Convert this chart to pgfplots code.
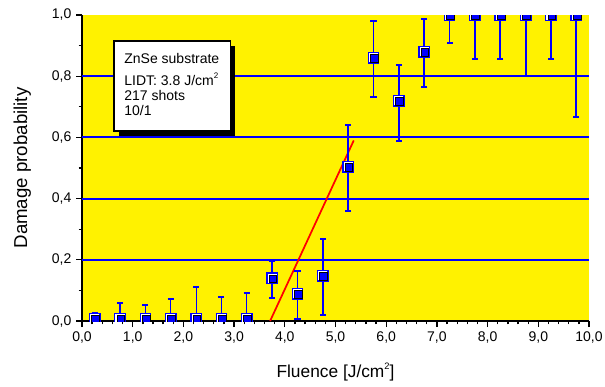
\documentclass[border=0pt]{standalone}
\usepackage{fontspec}
\setmainfont{Liberation Sans}
\usepackage{pgfplots}
\usepackage{pgfplotstable}
\pgfplotsset{compat=1.18}
\pgfplotstableread{
x y ep em
0.25 0.008 0.019 0
0.75 0.008 0.052 0
1.25 0.008 0.044 0
1.75 0.008 0.065 0
2.25 0.008 0.103 0
2.75 0.008 0.070 0
3.25 0.008 0.083 0
}\low
\pgfplotstableread{
x y ep em
3.75 0.140 0.057 0.065
4.25 0.089 0.075 0.083
4.75 0.148 0.120 0.128
5.25 0.504 0.136 0.144
5.75 0.860 0.120 0.128
6.25 0.720 0.117 0.131
6.75 0.880 0.107 0.115
7.25 1.0 0 0.092
7.75 1.0 0 0.144
8.25 1.0 0 0.144
8.75 1.0 0 0.200
9.25 1.0 0 0.144
9.75 1.0 0 0.333
}\high
\pgfplotstableread{
x y
3.71 0
5.36 0.59
}\fit
\begin{document}
\begin{tikzpicture}
\begin{axis}[name=ax, scale only axis, width=380.25pt, height=229.5pt,
  xmin=0, xmax=10, ymin=0, ymax=1,
  clip marker paths=true,
  axis x line*=bottom, axis y line*=left,
  axis line style={line width=1.2pt, -, black},
  axis background/.style={fill=yellow},
  tick align=outside,
  xtick={0,1,2,3,4,5,6,7,8,9,10},
  ytick={0,0.2,0.4,0.6,0.8,1},
  minor x tick num=4, minor y tick num=1,
  major tick length=4.5pt, minor tick length=2.5pt,
  tick style={black, line width=1pt},
  extra y ticks={0.2,0.4,0.6,0.8}, extra y tick labels={},
  extra y tick style={grid=major, major grid style={blue, line width=1.5pt}},
  /pgf/number format/assume math mode=true,
  /pgf/number format/fixed, /pgf/number format/fixed zerofill,
  /pgf/number format/precision=1, /pgf/number format/use comma,
  ticklabel style={font=\fontsize{10.5}{12}\selectfont, black},
  xlabel={Fluence [J/cm\raisebox{0.85ex}{\fontsize{7}{8}\selectfont 2}]},
  ylabel={Damage probability},
  xlabel style={font=\fontsize{13}{15}\selectfont, at={(axis description cs:0.5,-0.168)}, anchor=center},
  ylabel style={font=\fontsize{14}{16}\selectfont, at={(axis description cs:-0.118,0.5)}, anchor=center},
]
\fill[black] ([xshift=3.5pt,yshift=-3.5pt]axis cs:0.63,0.915) rectangle ([xshift=3.5pt,yshift=-3.5pt]axis cs:2.93,0.62);
\draw[fill=white, line width=1.4pt] (axis cs:0.63,0.915) rectangle (axis cs:2.93,0.62);
\node[anchor=base west, inner sep=0pt, font=\fontsize{10.5}{12}\selectfont] at (axis cs:0.83,0.843) {ZnSe substrate};
\node[anchor=base west, inner sep=0pt, font=\fontsize{10.5}{12}\selectfont] at (axis cs:0.83,0.770) {LIDT: 3.8 J/cm\raisebox{0.9ex}{\fontsize{6}{7}\selectfont 2}};
\node[anchor=base west, inner sep=0pt, font=\fontsize{10.5}{12}\selectfont] at (axis cs:0.83,0.720) {217 shots};
\node[anchor=base west, inner sep=0pt, font=\fontsize{10.5}{12}\selectfont] at (axis cs:0.83,0.670) {10/1};
\addplot[red, line width=1.3pt, no marks] table[x=x,y=y] {\fit};
\addplot[only marks, mark=square*, mark size=3.9pt, mark options={draw=blue, fill=white, line width=1pt},
  error bars/.cd, y dir=both, y explicit,
  error bar style={blue, line width=0.8pt},
  error mark options={blue, line width=1.3pt, mark size=2.3pt, rotate=90}]
  table[x=x, y=y, y error plus=ep, y error minus=em] {\low};
\addplot[only marks, mark=square*, mark size=3.9pt, mark options={draw=blue, fill=white, line width=1pt},
  error bars/.cd, y dir=both, y explicit,
  error bar style={blue, line width=1.3pt},
  error mark options={blue, line width=1.3pt, mark size=2.3pt, rotate=90}]
  table[x=x, y=y, y error plus=ep, y error minus=em] {\high};
\addplot[only marks, mark=square*, mark size=2.9pt, mark options={draw=none, fill=blue, xshift=0.5pt, yshift=-0.5pt}]
  table[x=x, y=y] {\low};
\addplot[only marks, mark=square*, mark size=2.9pt, mark options={draw=none, fill=blue, xshift=0.5pt, yshift=-0.5pt}]
  table[x=x, y=y] {\high};
\end{axis}
\pgfresetboundingbox
\path[use as bounding box] (ax.south west) ++(-61.5pt,-48.75pt) rectangle ++(453.75pt,289.5pt);
\end{tikzpicture}
\end{document}
